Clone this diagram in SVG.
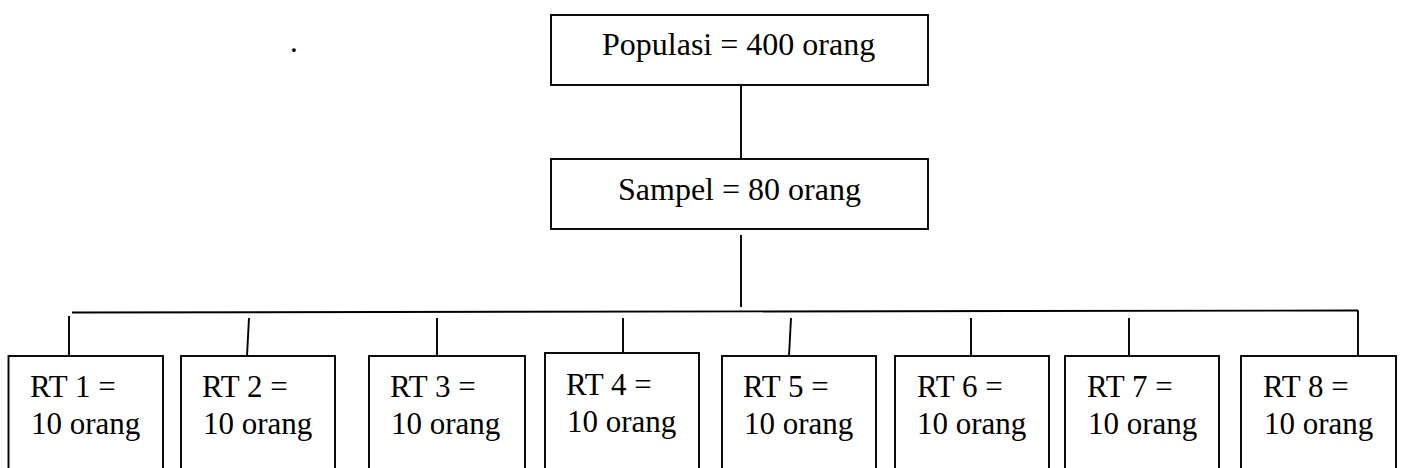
<svg xmlns="http://www.w3.org/2000/svg" width="1401" height="468" viewBox="0 0 1401 468">
<style>
.box{fill:#fff;stroke:#000;stroke-width:1.9}
.t{font-family:"Liberation Serif","Times New Roman",serif;font-size:31px;fill:#000}
.c line{stroke:#000;stroke-width:1.9}
</style>
<rect width="1401" height="468" fill="#fff"/>
<text class="t" x="290" y="52">.</text>
<g class="c" id="connectors">
<line x1="741" y1="85" x2="741" y2="159"/>
<line x1="741" y1="235" x2="741" y2="307"/>
<line x1="72" y1="312.5" x2="1358" y2="310.5"/>
<line x1="1358" y1="310.5" x2="1358" y2="356"/>
<line x1="69" y1="316" x2="69" y2="356"/>
<line x1="249" y1="318" x2="247" y2="356"/>
<line x1="437" y1="318" x2="437" y2="356"/>
<line x1="623" y1="318" x2="623" y2="353"/>
<line x1="791" y1="318" x2="789" y2="356"/>
<line x1="971" y1="318" x2="971" y2="356"/>
<line x1="1129" y1="318" x2="1129" y2="356"/>
</g>
<g id="populasi"><rect class="box" x="551" y="15" width="377" height="70"/><text class="t" x="602" y="55" style="font-size:32px">Populasi = 400 orang</text></g>
<g id="sampel"><rect class="box" x="551" y="159" width="377" height="70"/><text class="t" x="618" y="200" style="font-size:32px">Sampel = 80 orang</text></g>
<g id="rt1"><rect class="box" x="8.5" y="356" width="154.5" height="130"/><text class="t" x="30" y="397">RT 1 =</text><text class="t" x="31" y="434">10 orang</text></g>
<g id="rt2"><rect class="box" x="181" y="356" width="154" height="130"/><text class="t" x="202" y="397">RT 2 =</text><text class="t" x="203" y="434">10 orang</text></g>
<g id="rt3"><rect class="box" x="369" y="356" width="156" height="130"/><text class="t" x="390" y="397">RT 3 =</text><text class="t" x="391" y="434">10 orang</text></g>
<g id="rt4"><rect class="box" x="545" y="353" width="154" height="130"/><text class="t" x="566" y="395">RT 4 =</text><text class="t" x="567" y="432">10 orang</text></g>
<g id="rt5"><rect class="box" x="722" y="356" width="154" height="130"/><text class="t" x="743" y="397">RT 5 =</text><text class="t" x="744" y="434">10 orang</text></g>
<g id="rt6"><rect class="box" x="895" y="356" width="154" height="130"/><text class="t" x="917" y="397">RT 6 =</text><text class="t" x="917" y="434">10 orang</text></g>
<g id="rt7"><rect class="box" x="1065" y="356" width="154" height="130"/><text class="t" x="1087" y="397">RT 7 =</text><text class="t" x="1088" y="434">10 orang</text></g>
<g id="rt8"><rect class="box" x="1241" y="356" width="155" height="130"/><text class="t" x="1263" y="397">RT 8 =</text><text class="t" x="1264" y="434">10 orang</text></g>
</svg>
